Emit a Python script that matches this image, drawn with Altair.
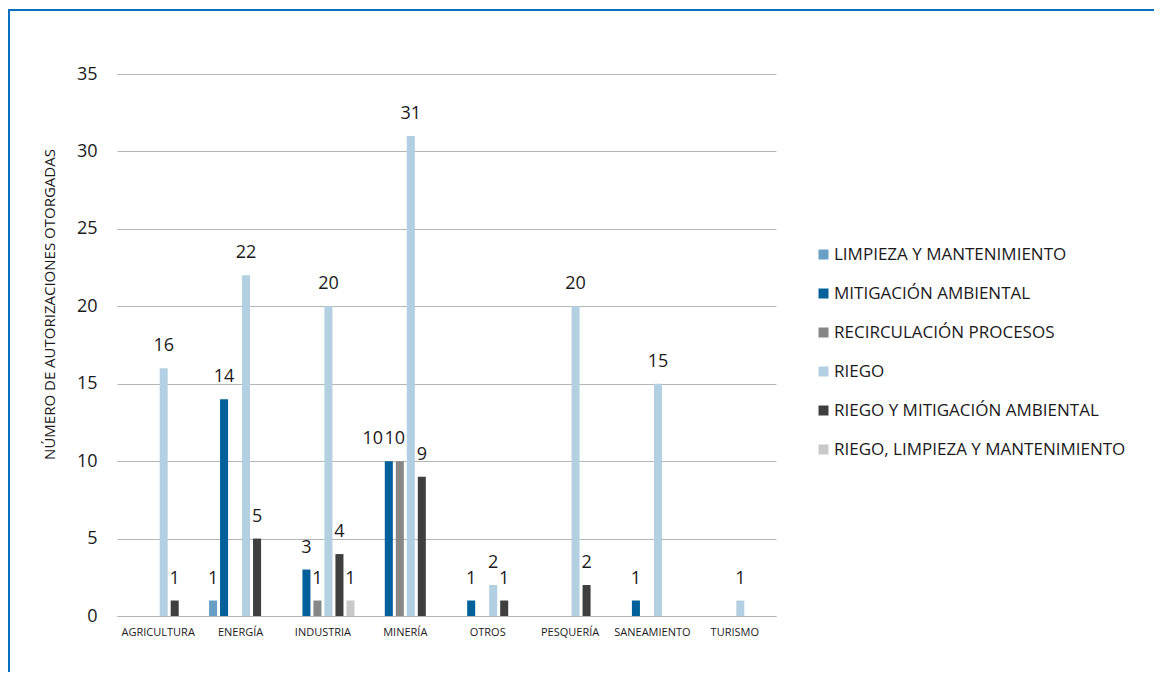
import altair as alt
import pandas as pd

categories = ["AGRICULTURA", "ENERGÍA", "INDUSTRIA", "MINERÍA", "OTROS",
              "PESQUERÍA", "SANEAMIENTO", "TURISMO"]
series = ["LIMPIEZA Y MANTENIMIENTO", "MITIGACIÓN AMBIENTAL", "RECIRCULACIÓN PROCESOS",
          "RIEGO", "RIEGO Y MITIGACIÓN AMBIENTAL", "RIEGO, LIMPIEZA Y MANTENIMIENTO"]

limpieza = [0, 1, 0, 0, 0, 0, 0, 0]
mitigacion = [0, 14, 3, 10, 1, 0, 1, 0]
recirculacion = [0, 0, 1, 10, 0, 0, 0, 0]
riego = [16, 22, 20, 31, 2, 20, 15, 1]
riego_mitigacion = [1, 5, 4, 9, 1, 2, 0, 0]
riego_limpieza = [0, 0, 1, 0, 0, 0, 0, 0]

colors = ["#6a9fc5", "#02619a", "#878787", "#b2d0e2", "#3f3f3f", "#c9c9c9"]
y_ticks = [0, 5, 10, 15, 20, 25, 30, 35]

rows = []
for s, vals in zip(series, [limpieza, mitigacion, recirculacion, riego,
                            riego_mitigacion, riego_limpieza]):
    for c, v in zip(categories, vals):
        if v:
            rows.append({"categoria": c, "serie": s, "valor": v})
df = pd.DataFrame(rows)

TEXT = "#1a1a1a"
GRID = "#b5b5b5"

base = alt.Chart(df).encode(
    x=alt.X("categoria:N", sort=categories,
            scale=alt.Scale(domain=categories, paddingInner=0.2, paddingOuter=0.1),
            axis=alt.Axis(title=None, labelAngle=0, labelFontSize=11, labelPadding=10,
                          ticks=False, domainColor=GRID, labelColor=TEXT)),
    xOffset=alt.XOffset("serie:N",
                        scale=alt.Scale(domain=series, paddingInner=0.27, paddingOuter=0.13)),
    y=alt.Y("valor:Q", scale=alt.Scale(domain=[0, 35]),
            axis=alt.Axis(values=y_ticks, title="NÚMERO DE AUTORIZACIONES OTORGADAS",
                          titleFontSize=15, titleFontWeight="normal", titleColor=TEXT,
                          titleAngle=270, titleX=-68, titleY=230, titleAlign="center",
                          titleBaseline="middle",
                          labelFontSize=18, labelColor=TEXT, labelPadding=20,
                          domain=False, ticks=False, gridColor=GRID, gridWidth=1)),
)

bars = base.mark_bar().encode(
    color=alt.Color("serie:N", scale=alt.Scale(domain=series, range=colors),
                    legend=alt.Legend(title=None, orient="none", legendX=698, legendY=172,
                                      symbolType="square", symbolSize=100,
                                      symbolStrokeWidth=0, labelFontSize=17,
                                      labelColor=TEXT, labelLimit=500, labelOffset=2,
                                      rowPadding=21)),
)

# Two crowded labels (Minería) are nudged apart, as in the reference
crowd_a = (alt.datum.categoria == "MINERÍA") & (alt.datum.serie == "MITIGACIÓN AMBIENTAL")
crowd_b = (alt.datum.categoria == "MINERÍA") & (alt.datum.serie == "RECIRCULACIÓN PROCESOS")

labels = base.mark_text(baseline="alphabetic", dy=-17, fontSize=18, color=TEXT).encode(
    text="valor:Q"
).transform_filter(~crowd_a & ~crowd_b)
labels_a = base.mark_text(baseline="alphabetic", dy=-17, dx=-16, fontSize=18, color=TEXT).encode(
    text="valor:Q"
).transform_filter(crowd_a)
labels_b = base.mark_text(baseline="alphabetic", dy=-17, dx=-5, fontSize=18, color=TEXT).encode(
    text="valor:Q"
).transform_filter(crowd_b)

frame_df = pd.DataFrame({"k": [0]})
left_border = alt.Chart(frame_df).mark_rule(color="#0a6fbf", strokeWidth=2).encode(
    x=alt.value(-108), y=alt.value(-64), y2=alt.value(600))
top_border = alt.Chart(frame_df).mark_rule(color="#0a6fbf", strokeWidth=2).encode(
    x=alt.value(-109), x2=alt.value(1040), y=alt.value(-64))

chart = alt.layer(bars, labels, labels_a, labels_b, left_border, top_border).properties(
    width=659, height=542,
    padding={"left": 109, "top": 66, "right": 378, "bottom": 56},
    autosize=alt.AutoSizeParams(type="none"),
).configure(font="Open Sans").configure_view(stroke=None)

chart.save("out.html", embed_options={"renderer": "svg", "actions": False})
